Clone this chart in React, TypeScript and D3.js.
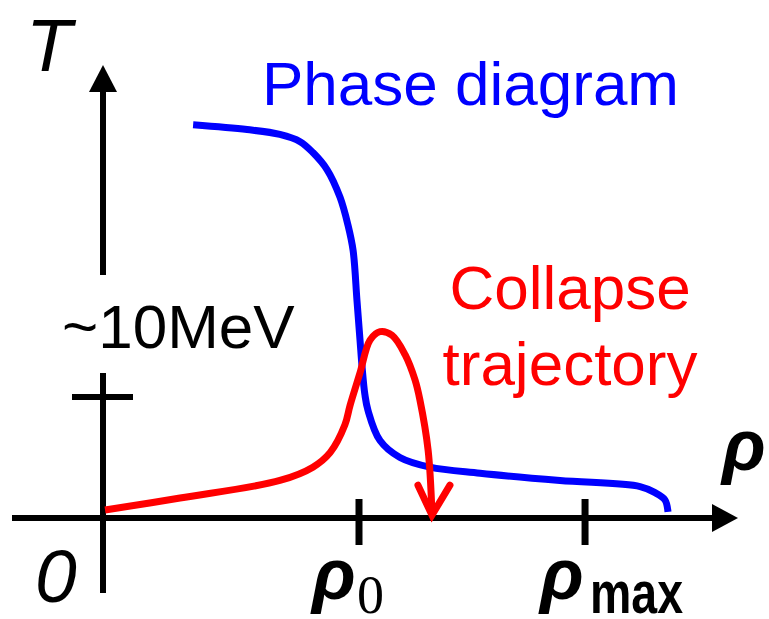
import React from "react";
import * as d3 from "d3";

// Density in units of rho0, temperature in MeV
const RHO_MAX = 1.883;
const TICK_T = 10;

const phaseRho = [0.352, 0.563, 0.691, 0.77, 0.82, 0.875, 0.926, 0.957, 0.977, 0.992, 1.004, 1.012, 1.023, 1.035, 1.082, 1.16, 1.277, 1.473, 1.785, 2.098, 2.156, 2.195, 2.207];
const phaseT = [32.5, 32.1, 31.7, 31.1, 30.2, 28.8, 26.5, 24.2, 22.1, 18.0, 14.7, 12.5, 10.2, 8.9, 6.4, 5.0, 4.2, 3.7, 3.1, 2.6, 2.1, 1.5, 0.5];

const collapseRho = [0.008, 0.301, 0.691, 0.82, 0.887, 0.945, 0.965, 1.004, 1.043, 1.082, 1.129, 1.18, 1.219, 1.238, 1.27, 1.285];
const collapseT = [0.66, 1.65, 3.1, 4.2, 5.4, 7.7, 9.3, 12.0, 14.7, 15.4, 15.1, 13.5, 11.4, 9.75, 5.6, 0.4];

const W = 769;
const H = 619;
const FONT = "'Liberation Sans', Arial, sans-serif";
const SERIF = "'Liberation Serif', 'Times New Roman', serif";

export default function App() {
  const x = d3.scaleLinear().domain([0, 1]).range([103, 359]);
  const y = d3.scaleLinear().domain([0, TICK_T]).range([518, 397]);

  const line = d3
    .line<[number, number]>()
    .x((d) => x(d[0]))
    .y((d) => y(d[1]))
    .curve(d3.curveCatmullRom.alpha(0.5));

  const phase = phaseRho.map((r, i) => [r, phaseT[i]] as [number, number]);
  const collapse = collapseRho.map((r, i) => [r, collapseT[i]] as [number, number]);

  const x0 = x(0);
  const y0 = y(0);
  const tipX = x(collapseRho[collapseRho.length - 1]);
  const tipY = y(collapseT[collapseT.length - 1]) + 2;
  const axisW = 6;

  return (
    <svg
      width={W}
      height={H}
      style={{ position: "absolute", left: 0, top: 0, display: "block", background: "#fff" }}
    >
      {/* vertical axis, interrupted around the scale label */}
      <line x1={x0} x2={x0} y1={91} y2={275} stroke="#000" strokeWidth={axisW} />
      <line x1={x0} x2={x0} y1={373} y2={593} stroke="#000" strokeWidth={axisW} />
      <path d={`M${x0},65 L${x0 - 14},92 L${x0 + 14},92 Z`} fill="#000" />
      {/* temperature tick */}
      <line x1={72} x2={133} y1={y(TICK_T)} y2={y(TICK_T)} stroke="#000" strokeWidth={axisW} />

      {/* horizontal axis */}
      <line x1={12} x2={714} y1={y0} y2={y0} stroke="#000" strokeWidth={axisW} />
      <path d={`M738,${y0} L712,${y0 - 14} L712,${y0 + 14} Z`} fill="#000" />
      {[1, RHO_MAX].map((r) => (
        <line key={r} x1={x(r)} x2={x(r)} y1={499} y2={545} stroke="#000" strokeWidth={axisW + 1} />
      ))}

      {/* phase boundary */}
      <path d={line(phase) ?? ""} fill="none" stroke="#0000ff" strokeWidth={7} />

      {/* collapse trajectory with arrowhead */}
      <path d={line(collapse) ?? ""} fill="none" stroke="#ff0000" strokeWidth={7} />
      <path
        d={`M${tipX - 14},${tipY - 30} L${tipX},${tipY} L${tipX + 18},${tipY - 30}`}
        fill="none"
        stroke="#ff0000"
        strokeWidth={7}
        strokeLinecap="round"
        strokeLinejoin="miter"
      />

      {/* labels */}
      <text x={26} y={71} fontFamily={FONT} fontStyle="italic" fontSize={75} fill="#000">T</text>
      <text x={35} y={602} fontFamily={FONT} fontStyle="italic" fontSize={75} fill="#000">0</text>
      <text x={62} y={348} fontFamily={FONT} fontSize={62} fill="#000">~10MeV</text>

      <text x={262} y={105} fontFamily={FONT} fontSize={62} fill="#0000ff">Phase diagram</text>
      <text x={570} y={309} textAnchor="middle" fontFamily={FONT} fontSize={62} fill="#ff0000">Collapse</text>
      <text x={570} y={385} textAnchor="middle" fontFamily={FONT} fontSize={62} fill="#ff0000">trajectory</text>

      <text x={722} y={470} fontFamily={FONT} fontStyle="italic" fontWeight="bold" fontSize={72} fill="#000">ρ</text>

      <text x={312} y={599} fontFamily={FONT} fontStyle="italic" fontWeight="bold" fontSize={72} fill="#000">ρ</text>
      <text x={357} y={613} fontFamily={SERIF} fontSize={54} fill="#000">0</text>

      <text x={540} y={599} fontFamily={FONT} fontStyle="italic" fontWeight="bold" fontSize={72} fill="#000">ρ</text>
      <text x={590} y={613} fontFamily={FONT} fontWeight="bold" fontSize={60} textLength={93} lengthAdjust="spacingAndGlyphs" fill="#000">max</text>
    </svg>
  );
}
